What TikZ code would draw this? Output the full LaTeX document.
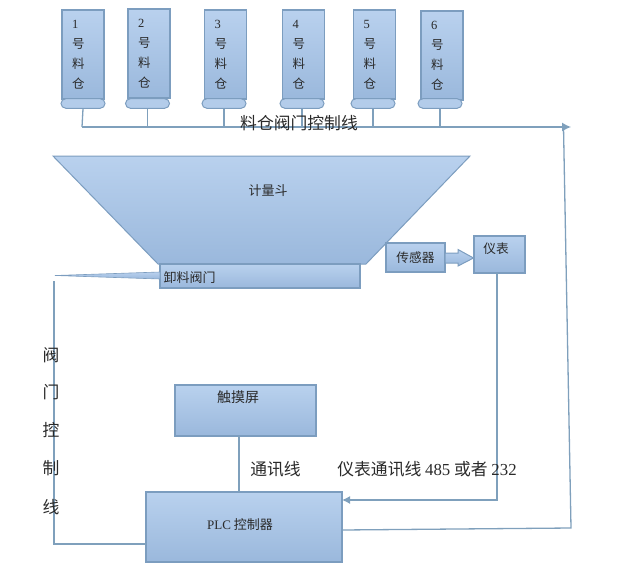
\documentclass[tikz,border=0pt]{standalone}
\usepackage{fontspec}
\setmainfont{Noto Sans CJK SC}
\newfontfamily\latinfont{Liberation Serif}
\usetikzlibrary{arrows.meta,shapes.misc}
\definecolor{boxtop}{HTML}{B9D1EE}
\definecolor{boxbot}{HTML}{9AB8DC}
\definecolor{boxline}{HTML}{7C9DBF}
\definecolor{wireline}{HTML}{7FA0BC}
\definecolor{textgray}{HTML}{2A2A2A}
\tikzset{
  blockbox/.style={draw=boxline,line width=1.3pt,top color=boxtop,bottom color=boxbot,inner sep=0pt,text=textgray},
  binbox/.style={blockbox,line width=1.7pt,minimum height=89pt,text width=22pt,inner xsep=10pt,align=left,font=\fontsize{12.5}{20}\selectfont},
  capbox/.style={rounded rectangle,draw=boxline,line width=1pt,fill=boxtop!80!boxbot,minimum width=44pt,minimum height=9.5pt,inner sep=0pt},
  wire/.style={draw=wireline,line width=1.3pt},
  label/.style={text=textgray,inner sep=0pt},
  bignote/.style={label,font=\fontsize{16.8}{20}\selectfont},
  smallnote/.style={label,font=\fontsize{13}{15}\selectfont},
}
\begin{document}
\begin{tikzpicture}[x=1pt,y=-1pt,>=latex]
  \useasboundingbox (0,0) rectangle (620,575);
  % bins
  \coordinate (busstart) at (82,127);
  \coordinate (busend) at (571,127);
  \foreach \n/\xa/\ya/\xb in {1/83/54.5/83,2/149/53.5/147.5,3/225.5/54.5/224,4/303.5/54.5/302,5/374.5/54.5/373,6/442/55.5/440}{
    \node[binbox] (bin\n) at (\xa,\ya) {{\latinfont\n}\\号\\料\\仓};
    \node[capbox] (cap\n) at (\xb,103.5) {};
  }
  % control bus
  \draw[wire] (cap1.south) -- (busstart);
  \foreach \n in {2,...,6}{
    \draw[wire] (cap\n.south) -- (cap\n.south |- busstart);
  }
  \draw[wire,-{Latex[length=9pt,width=9pt]}] (busstart) -- (busend);
  \node[bignote] (busnote) at (299,123) {料仓阀门控制线};
  % hopper and valve
  \path[blockbox,line width=1pt] (53,156) -- (470,156) -- (366,264) -- (158,264) -- cycle;
  \node[smallnote] (hopper) at (268,191) {计量斗};
  \node[blockbox,line width=1.1pt,minimum width=200pt,minimum height=24pt] (valve) at (260,276) {};
  \path[blockbox,line width=0.6pt] (160,272) -- (55,275.5) -- (160,279) -- cycle;
  \node[smallnote] (valvenote) at (189.5,278) {卸料阀门};
  % sensor and meter
  \node[blockbox,minimum width=59pt,minimum height=29pt,font=\fontsize{12.7}{15}\selectfont] (sensor) at (415.5,257.5) {传感器};
  \node[blockbox,minimum width=51pt,minimum height=37pt] (meter) at (499.5,254.5) {};
  \node[label,font=\fontsize{12.7}{15}\selectfont] (meternote) at (496,249) {仪表};
  \path[blockbox,line width=1pt] (445,253) -- (458,253) -- (458,249.5) -- (473.5,258) -- (458,266) -- (458,263) -- (445,263) -- cycle;
  % controller and screen
  \node[blockbox,minimum width=141pt,minimum height=51pt] (screen) at (245.5,410.5) {};
  \node[label,font=\fontsize{14}{16}\selectfont] (screennote) at (238,397) {触摸屏};
  \node[blockbox,minimum width=196pt,minimum height=70pt] (plc) at (244,527) {};
  \node[smallnote] (plcnote) at (240,525) {{\latinfont PLC} 控制器};
  % wires
  \coordinate (valveturn) at (54,281);
  \coordinate (valvefoot) at (54,544);
  \coordinate (plcleft) at (146,544);
  \draw[wire] (valveturn) -- (valvefoot) -- (plcleft);
  \coordinate (screenfoot) at (239,436);
  \coordinate (plctop) at (239,492);
  \draw[wire] (screenfoot) -- (plctop);
  \coordinate (meterfoot) at (497,273);
  \coordinate (meterturn) at (497,500);
  \coordinate (plcin) at (342,500);
  \draw[wire,-{Latex[length=8pt,width=8pt]}] (meterfoot) -- (meterturn) -- (plcin);
  \coordinate (plcout) at (342,530);
  \coordinate (riserfoot) at (571,528);
  \coordinate (risertop) at (563.5,127);
  \draw[wire] (plcout) -- (riserfoot) -- (risertop);
  % notes
  \node[bignote] (commnote) at (275.5,469) {通讯线};
  \node[bignote] (meterline) at (427,469) {仪表通讯线 {\latinfont 485} 或者 {\latinfont 232}};
  \foreach \c/\ty in {阀/355,门/392,控/430,制/468,线/507}{
    \node[bignote] (side\ty) at (51,\ty) {\c};
  }
\end{tikzpicture}
\end{document}
